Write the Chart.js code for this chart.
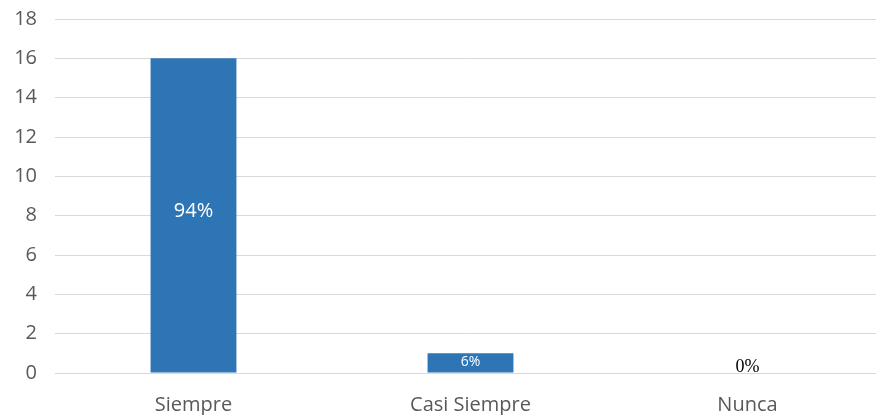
<!DOCTYPE html>
<html>
<head>
<meta charset="utf-8">
<script src="https://cdn.jsdelivr.net/npm/chart.js@4/dist/chart.umd.min.js"></script>
<style>
  html, body { margin: 0; padding: 0; background: #fff; overflow: hidden; }
  #wrap { width: 886px; height: 415px; }
</style>
</head>
<body>
<div id="wrap"><canvas id="chart"></canvas></div>
<script>
const categorias = ["Siempre", "Casi Siempre", "Nunca"];
const respuestas = [16, 1, 0];
const porcentajes = ["94%", "6%", "0%"];
const yTicks = [0, 2, 4, 6, 8, 10, 12, 14, 16, 18];

const fuente = "'Open Sans', sans-serif";

// etiquetas de porcentaje sobre las barras
const etiquetas = {
  id: "etiquetas",
  afterDatasetsDraw(chart) {
    const ctx = chart.ctx;
    const meta = chart.getDatasetMeta(0);
    const y0 = chart.scales.y.getPixelForValue(0);
    ctx.save();
    ctx.textAlign = "center";
    meta.data.forEach((bar, i) => {
      const v = respuestas[i];
      if (v >= 8) {
        ctx.textBaseline = "middle";
        ctx.fillStyle = "#ffffff";
        ctx.font = "20px " + fuente;
        ctx.fillText(porcentajes[i], bar.x, (bar.y + y0) / 2 - 4);
      } else if (v > 0) {
        ctx.textBaseline = "middle";
        ctx.fillStyle = "#ffffff";
        ctx.font = "14px " + fuente;
        ctx.fillText(porcentajes[i], bar.x, (bar.y + y0) / 2 - 1);
      } else {
        ctx.textBaseline = "alphabetic";
        ctx.fillStyle = "#000000";
        ctx.font = "18px 'Liberation Serif', 'DejaVu Serif', serif";
        ctx.fillText(porcentajes[i], bar.x, y0 - 1);
      }
    });
    ctx.restore();
  }
};

new Chart(document.getElementById("chart"), {
  type: "bar",
  data: {
    labels: categorias,
    datasets: [{
      data: respuestas,
      backgroundColor: "#2e75b6",
      borderWidth: 0,
      barPercentage: 1,
      categoryPercentage: 0.31,
    }],
  },
  options: {
    responsive: true,
    maintainAspectRatio: false,
    animation: false,
    layout: { padding: { top: 0, left: 0, right: 0, bottom: 0 } },
    plugins: {
      legend: { display: false },
      tooltip: { enabled: false },
    },
    scales: {
      x: {
        grid: { display: false, drawTicks: false, tickLength: 0 },
        border: { display: true, color: "#d9d9d9", width: 1 },
        ticks: {
          color: "#595959",
          font: { size: 20, family: fuente },
          padding: 20,
          maxRotation: 0,
        },
        afterFit: axis => { axis.height = 42; },
      },
      y: {
        min: 0,
        max: 18,
        afterBuildTicks: axis => { axis.ticks = yTicks.map(v => ({ value: v })); },
        grid: { color: "#d9d9d9", lineWidth: 1, drawTicks: false, tickLength: 0 },
        border: { display: false },
        ticks: {
          color: "#595959",
          font: { size: 20, family: fuente },
          padding: 18,
        },
        afterFit: axis => { axis.width = 55; axis.paddingTop = 19; },
      },
    },
  },
  plugins: [etiquetas],
});
</script>
</body>
</html>
